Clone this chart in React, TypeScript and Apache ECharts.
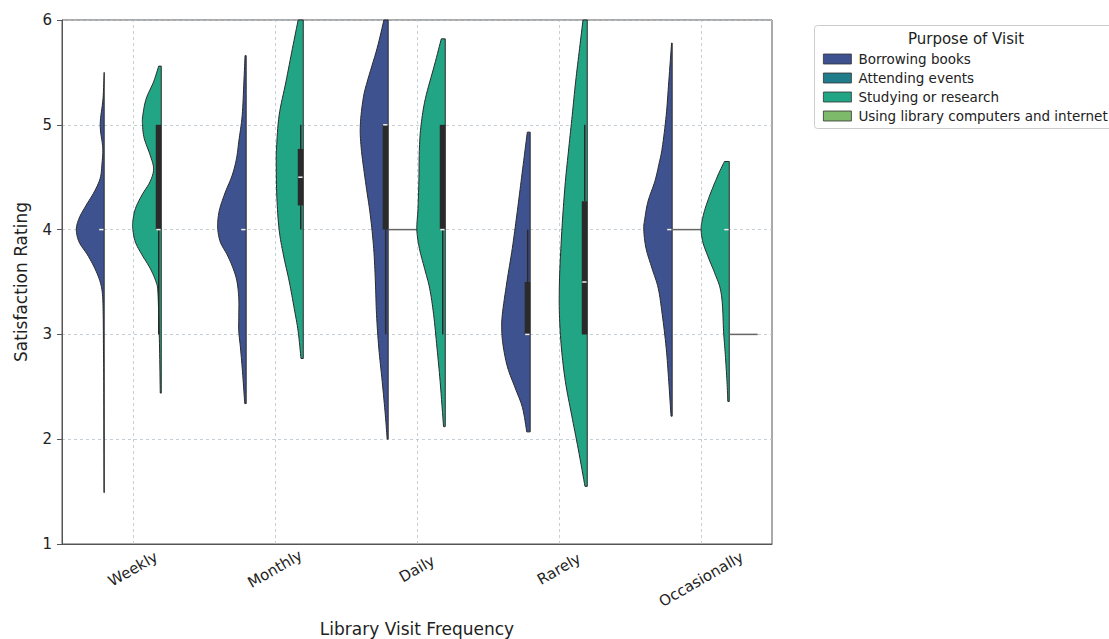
import React, { useEffect, useRef } from 'react';
import * as echarts from 'echarts';

// ---------- data ----------
const categories = ['Weekly', 'Monthly', 'Daily', 'Rarely', 'Occasionally'];
const purposes = ['Borrowing books', 'Attending events', 'Studying or research', 'Using library computers and internet'];
const purposeColors = ['#3f5290', '#1f7d8b', '#22a584', '#7dba6a'];
const yTicks = [1, 2, 3, 4, 5, 6];

// violin profiles: [rating, relative half-width (1 = widest)]
const borrowingWeekly = [[5.5, 0], [5.25, 0.04], [5.0, 0.14], [4.78, 0.05], [4.62, 0.08], [4.49, 0.14], [4.36, 0.35], [4.23, 0.64], [4.11, 0.88], [4.0, 0.98], [3.88, 0.88], [3.76, 0.59], [3.63, 0.33], [3.5, 0.14], [3.38, 0.06], [3.19, 0.035], [2.87, 0.025], [2.55, 0.015], [1.49, 0.005]];
const borrowingMonthly = [[5.66, 0.04], [5.41, 0.08], [5.09, 0.14], [4.84, 0.26], [4.68, 0.34], [4.52, 0.49], [4.36, 0.73], [4.2, 0.93], [4.08, 1.0], [4.0, 1.0], [3.88, 0.91], [3.76, 0.67], [3.63, 0.46], [3.5, 0.32], [3.34, 0.26], [3.19, 0.26], [3.03, 0.26], [2.87, 0.2], [2.61, 0.12], [2.34, 0.05]];
const borrowingDaily = [[6.0, 0.15], [5.73, 0.39], [5.41, 0.74], [5.25, 0.88], [5.0, 0.98], [4.78, 0.95], [4.46, 0.8], [4.14, 0.63], [3.82, 0.51], [3.5, 0.45], [3.19, 0.41], [2.87, 0.33], [2.55, 0.21], [2.23, 0.1], [2.0, 0.035]];
const borrowingRarely = [[4.93, 0.1], [4.76, 0.18], [4.46, 0.32], [4.14, 0.47], [3.82, 0.63], [3.5, 0.82], [3.19, 0.98], [3.03, 1.0], [2.87, 0.94], [2.68, 0.79], [2.49, 0.53], [2.3, 0.27], [2.07, 0.12]];
const borrowingOccasionally = [[5.78, 0.02], [5.41, 0.12], [5.09, 0.21], [4.78, 0.35], [4.62, 0.47], [4.46, 0.61], [4.27, 0.85], [4.11, 0.96], [4.0, 1.0], [3.82, 0.92], [3.63, 0.71], [3.44, 0.49], [3.19, 0.35], [2.87, 0.21], [2.55, 0.12], [2.22, 0.04]];

const studyingWeekly = [[5.56, 0.09], [5.41, 0.27], [5.25, 0.53], [5.09, 0.65], [5.0, 0.66], [4.87, 0.6], [4.71, 0.39], [4.58, 0.27], [4.46, 0.39], [4.33, 0.68], [4.2, 0.91], [4.08, 1.0], [4.0, 1.0], [3.88, 0.91], [3.76, 0.68], [3.63, 0.39], [3.5, 0.18], [3.41, 0.12], [3.19, 0.09], [2.87, 0.06], [2.44, 0.035]];
const studyingMonthly = [[6.0, 0.18], [5.73, 0.38], [5.41, 0.61], [5.09, 0.85], [4.78, 0.94], [4.62, 0.95], [4.31, 0.93], [4.0, 0.85], [3.76, 0.7], [3.5, 0.49], [3.25, 0.32], [3.03, 0.18], [2.77, 0.08]];
const studyingDaily = [[5.82, 0.14], [5.57, 0.38], [5.25, 0.7], [5.0, 0.85], [4.78, 0.91], [4.46, 0.93], [4.2, 0.96], [4.0, 1.0], [3.82, 0.91], [3.63, 0.73], [3.44, 0.55], [3.19, 0.41], [2.87, 0.29], [2.55, 0.18], [2.12, 0.06]];
const studyingRarely = [[6.0, 0.15], [5.73, 0.27], [5.41, 0.41], [5.09, 0.53], [4.78, 0.65], [4.46, 0.77], [4.14, 0.86], [3.82, 0.93], [3.5, 0.98], [3.19, 0.98], [2.87, 0.91], [2.55, 0.77], [2.23, 0.55], [1.91, 0.32], [1.55, 0.08]];
const studyingOccasionally = [[4.65, 0.17], [4.53, 0.38], [4.36, 0.64], [4.2, 0.85], [4.08, 0.96], [4.0, 0.99], [3.88, 0.93], [3.73, 0.73], [3.57, 0.49], [3.44, 0.32], [3.28, 0.24], [3.03, 0.2], [2.81, 0.14], [2.55, 0.08], [2.36, 0.05]];

const borrowingProfiles = [borrowingWeekly, borrowingMonthly, borrowingDaily, borrowingRarely, borrowingOccasionally];
const studyingProfiles = [studyingWeekly, studyingMonthly, studyingDaily, studyingRarely, studyingOccasionally];

// inner box: [lower whisker, Q1, median, Q3, upper whisker]
const borrowingBoxes = [[4, 4, 4, 4, 4], [4, 4, 4, 4, 4], [3, 4, 5, 5, 5], [3, 3, 3, 3.5, 4], [4, 4, 4, 4, 4]];
const studyingBoxes = [[3, 4, 4, 5, 5], [4, 4.23, 4.5, 4.77, 5], [3, 4, 4, 5, 5], [3, 3, 3.5, 4.27, 5], [4, 4, 4, 4, 4]];

// single-valued groups (drawn as flat lines)
const attendingCategories = ['Daily', 'Occasionally'];
const attendingValues = [4, 4];
const usingCategories = ['Occasionally'];
const usingValues = [3];

// ---------- drawing helpers ----------
const FONT = 'DejaVu Sans, sans-serif';
const WIDTH_FRAC = 0.2;
const OUTLINE = '#2a2a2a';

function catmull(pts: number[][], flatX: number): number[][] {
  const out: number[][] = [];
  const n = pts.length;
  for (let i = 0; i < n - 1; i++) {
    const p0 = pts[Math.max(0, i - 1)];
    const p1 = pts[i];
    const p2 = pts[i + 1];
    const p3 = pts[Math.min(n - 1, i + 2)];
    const steps = 8;
    for (let s = 0; s < steps; s++) {
      const t = s / steps;
      const t2 = t * t;
      const t3 = t2 * t;
      const f = (a: number, b: number, c: number, d: number) =>
        0.5 * (2 * b + (-a + c) * t + (2 * a - 5 * b + 4 * c - d) * t2 + (-a + 3 * b - 3 * c + d) * t3);
      let x = f(p0[0], p1[0], p2[0], p3[0]);
      const y = f(p0[1], p1[1], p2[1], p3[1]);
      if (x > flatX) x = flatX;
      out.push([x, y]);
    }
  }
  out.push(pts[n - 1]);
  return out;
}

function violinRenderer(profiles: number[][][], boxes: number[][], offset: number) {
  return (params: any, api: any) => {
    const ci = api.value(0);
    const prof = profiles[ci];
    const band = api.size([1, 0])[0];
    const cx = api.coord([ci, 4])[0];
    const flatX = cx + offset * band;
    const maxW = WIDTH_FRAC * band;
    const yOf = (v: number) => api.coord([ci, v])[1];
    const pts = prof.map(([v, w]) => [flatX - w * maxW, yOf(v)]);
    const curve = catmull(pts, flatX);
    const yTop = pts[0][1];
    const yBot = pts[pts.length - 1][1];
    const poly = [[flatX, yTop], ...curve, [flatX, yBot]];
    const color = api.visual('color');
    const children: any[] = [
      {
        type: 'polygon',
        shape: { points: poly },
        style: { fill: color, stroke: OUTLINE, lineWidth: 1 },
      },
    ];
    const [wl, q1, med, q3, wh] = boxes[ci];
    const bx = flatX - 5.5;
    const wx = flatX - 2.5;
    if (wh > q3) {
      children.push({ type: 'line', shape: { x1: wx, y1: yOf(wh), x2: wx, y2: yOf(q3) }, style: { stroke: OUTLINE, lineWidth: 1.5 } });
    }
    if (wl < q1) {
      children.push({ type: 'line', shape: { x1: wx, y1: yOf(q1), x2: wx, y2: yOf(wl) }, style: { stroke: OUTLINE, lineWidth: 1.5 } });
    }
    if (q3 > q1) {
      children.push({ type: 'rect', shape: { x: bx, y: yOf(q3), width: 5.5, height: yOf(q1) - yOf(q3) }, style: { fill: OUTLINE } });
    }
    children.push({ type: 'line', shape: { x1: flatX - 5, y1: yOf(med), x2: flatX - 0.7, y2: yOf(med) }, style: { stroke: '#eeeeee', lineWidth: 1.5 } });
    return { type: 'group', children };
  };
}

function flatRenderer(offset: number) {
  return (params: any, api: any) => {
    const ci = api.value(0);
    const v = api.value(1);
    const band = api.size([1, 0])[0];
    const p = api.coord([ci, v]);
    const flatX = p[0] + offset * band;
    return {
      type: 'line',
      shape: { x1: flatX - WIDTH_FRAC * band, y1: p[1], x2: flatX, y2: p[1] },
      style: { stroke: '#666666', lineWidth: 1.5 },
    };
  };
}

export default function App() {
  const ref = useRef<HTMLDivElement>(null);
  useEffect(() => {
    if (!ref.current) return;
    const chart = echarts.init(ref.current, undefined, { renderer: 'svg' });
    const gridColor = '#b9c3cb';
    const option: any = {
      animation: false,
      color: purposeColors,
      textStyle: { fontFamily: FONT },
      grid: {
        left: 62, right: 337, top: 20, bottom: 95,
        show: true, borderColor: '#555', borderWidth: 1,
        containLabel: false, outerBoundsMode: 'none',
      },
      xAxis: {
        type: 'category',
        data: categories,
        boundaryGap: true,
        axisLine: { lineStyle: { color: '#555', width: 1 } },
        axisTick: { alignWithLabel: true, length: 5, lineStyle: { color: '#555' } },
        splitLine: { show: false },
        axisLabel: {
          rotate: 30,
          align: 'center',
          verticalAlign: 'middle',
          margin: 25,
          fontSize: 15,
          color: '#222',
          fontFamily: FONT,
          formatter: (v: string) => (v === 'Occasionally' ? '{o|' + v + '}' : v),
          rich: { o: { padding: [18, 10, 0, 0], fontSize: 15, color: '#222', fontFamily: FONT } },
        },
        name: 'Library Visit Frequency',
        nameLocation: 'middle',
        nameGap: 76,
        nameTextStyle: { fontSize: 17, color: '#222', fontFamily: FONT },
      },
      yAxis: {
        type: 'value',
        min: yTicks[0],
        max: yTicks[yTicks.length - 1],
        interval: 1,
        axisLine: { show: true, lineStyle: { color: '#555', width: 1 } },
        axisTick: { show: true, length: 5, lineStyle: { color: '#555' } },
        axisLabel: { fontSize: 15, color: '#222', margin: 10, fontFamily: FONT },
        splitLine: { show: true, lineStyle: { color: gridColor, type: [3, 3], width: 0.8 } },
        name: 'Satisfaction Rating',
        nameLocation: 'middle',
        nameGap: 33,
        nameTextStyle: { fontSize: 17, color: '#222', fontFamily: FONT },
      },
      legend: {
        data: purposes,
        orient: 'vertical',
        left: 818,
        top: 47,
        itemWidth: 28,
        itemHeight: 10,
        itemGap: 5,
        icon: 'rect',
        selectedMode: false,
        itemStyle: { borderColor: '#333', borderWidth: 0.8 },
        textStyle: { fontSize: 13.5, color: '#222', fontFamily: FONT, lineHeight: 14, padding: [0, 0, 0, 2] },
      },
      graphic: [
        {
          type: 'rect',
          z: 0,
          left: 814,
          top: 25,
          shape: { width: 305, height: 103, r: 3 },
          style: { fill: '#ffffff', stroke: '#cccccc', lineWidth: 1 },
        },
        {
          type: 'text',
          z: 1,
          x: 966,
          y: 39,
          style: { text: 'Purpose of Visit', fontSize: 15, fill: '#222', fontFamily: FONT, textAlign: 'center', textVerticalAlign: 'middle' },
        },
      ],
      series: [
        {
          type: 'custom',
          name: purposes[0],
          itemStyle: { color: purposeColors[0] },
          renderItem: violinRenderer(borrowingProfiles, borrowingBoxes, -0.203),
          encode: { x: 0, y: 1 },
          data: categories.map((c, i) => [i, borrowingBoxes[i][2]]),
          z: 3,
          markLine: {
            silent: true,
            z: 1,
            symbol: ['none', 'none'],
            label: { show: false },
            lineStyle: { color: gridColor, type: [3, 3], width: 0.8 },
            emphasis: { disabled: true },
            data: categories.map((c) => ({ xAxis: c })),
          },
        },
        {
          type: 'custom',
          name: purposes[1],
          itemStyle: { color: purposeColors[1] },
          renderItem: flatRenderer(0),
          encode: { x: 0, y: 1 },
          data: attendingCategories.map((c, i) => [categories.indexOf(c), attendingValues[i]]),
          z: 3,
        },
        {
          type: 'custom',
          name: purposes[2],
          itemStyle: { color: purposeColors[2] },
          renderItem: violinRenderer(studyingProfiles, studyingBoxes, 0.199),
          encode: { x: 0, y: 1 },
          data: categories.map((c, i) => [i, studyingBoxes[i][2]]),
          z: 3,
        },
        {
          type: 'custom',
          name: purposes[3],
          itemStyle: { color: purposeColors[3] },
          renderItem: flatRenderer(0.399),
          encode: { x: 0, y: 1 },
          data: usingCategories.map((c, i) => [categories.indexOf(c), usingValues[i]]),
          z: 3,
        },
      ],
    };
    chart.setOption(option);
    return () => chart.dispose();
  }, []);
  return <div ref={ref} style={{ position: 'absolute', left: 0, top: 0, width: 1109, height: 639, background: '#fff' }} />;
}
